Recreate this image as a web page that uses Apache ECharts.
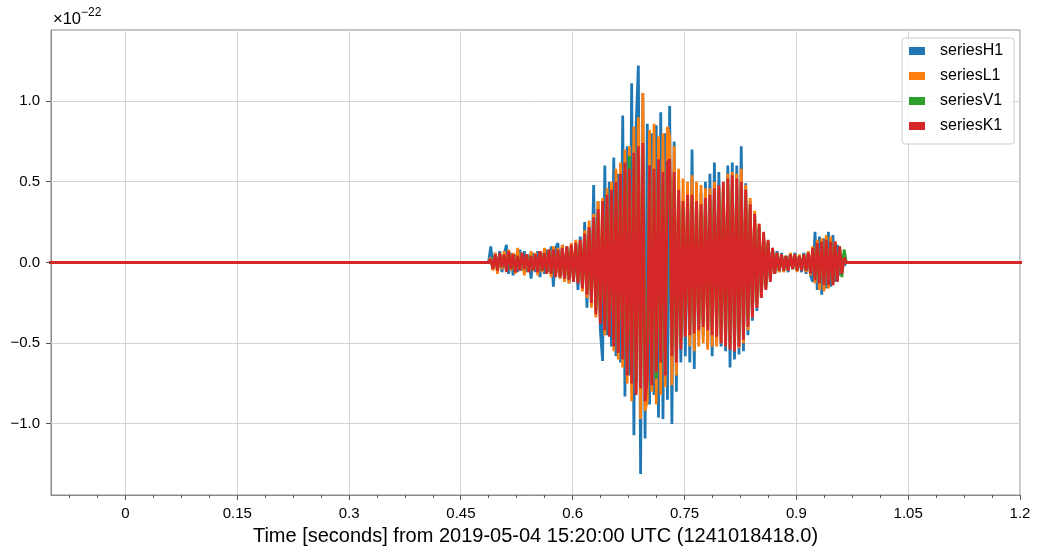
<!DOCTYPE html>
<html><head><meta charset="utf-8">
<script src="https://cdn.jsdelivr.net/npm/echarts@6/dist/echarts.min.js"></script>
<style>html,body{margin:0;padding:0;background:#fff}#c{width:1040px;height:557px}</style>
</head><body><div id="c"></div>
<script>
// sampling grid of the burst (seconds)
const timeStart = 0.49;
const timeStep = 0.003;

// strain values in units of 1e-22, one per time sample
const seriesH1 = [
 0.10,-0.04,0.06,-0.05,0.07,-0.06,0.05,0.11,-0.07,0.06,
 -0.08,0.05,-0.06,0.08,-0.05,0.07,-0.06,0.05,-0.10,0.06,
 -0.06,0.07,-0.09,0.06,-0.07,0.08,-0.06,0.10,-0.15,0.09,
 0.12,-0.10,0.11,-0.12,0.10,-0.13,0.09,-0.12,0.13,-0.17,
 0.16,-0.17,0.25,-0.28,0.22,-0.24,0.48,-0.30,0.38,-0.42,
 -0.61,0.60,-0.45,0.50,-0.52,0.65,-0.58,0.55,-0.62,0.91,
 -0.83,0.72,-0.70,1.11,-1.07,0.85,1.22,-1.31,1.05,-1.09,
 0.86,-0.88,0.80,-0.82,0.85,-0.96,0.93,-0.97,0.80,-0.85,
 0.97,-1.00,0.75,-0.80,0.53,-0.62,0.38,-0.58,0.45,-0.62,
 0.70,-0.66,0.42,-0.48,0.43,-0.46,0.50,-0.52,0.55,-0.58,
 0.62,-0.50,0.56,-0.52,0.46,-0.55,0.60,-0.65,0.62,-0.60,
 0.60,-0.57,0.72,-0.55,0.49,-0.45,0.38,-0.36,0.30,-0.30,
 0.22,-0.22,0.17,-0.16,0.12,-0.10,0.09,-0.07,0.07,-0.06,
 0.06,-0.05,0.04,-0.06,0.05,-0.04,0.06,-0.05,0.04,-0.06,
 0.06,-0.07,0.07,-0.08,-0.12,0.19,-0.17,0.16,-0.20,0.15,
 -0.16,0.19,-0.15,0.17,-0.12,0.11,-0.08,0.05,-0.02
];
const seriesL1 = [
 0.03,-0.05,0.06,-0.07,0.05,-0.04,0.07,-0.03,0.08,-0.05,
 0.06,-0.07,0.09,-0.05,0.06,-0.08,0.05,-0.06,0.07,-0.05,
 0.06,-0.08,0.07,-0.06,0.09,-0.07,0.08,-0.09,0.10,-0.08,
 0.09,-0.10,0.11,-0.12,0.10,-0.13,0.12,-0.11,0.14,-0.12,
 0.14,-0.18,0.20,-0.22,0.26,-0.28,0.30,-0.34,0.38,-0.36,
 0.40,-0.45,0.46,-0.43,0.50,-0.55,0.58,-0.60,0.62,-0.65,
 0.70,-0.75,0.72,-0.86,0.84,-0.80,0.90,-0.97,1.05,-0.92,
 -0.85,0.82,-0.80,0.86,-0.88,0.78,-0.82,0.80,-0.77,0.84,
 0.78,-0.76,0.72,-0.70,0.58,-0.50,0.52,-0.46,0.50,-0.52,
 0.54,-0.55,0.50,-0.52,0.48,-0.50,0.46,-0.54,0.46,-0.52,
 0.50,-0.52,0.46,-0.50,0.48,-0.52,0.55,-0.53,0.56,-0.55,
 0.55,-0.53,0.58,-0.50,0.48,-0.42,0.40,-0.34,0.32,-0.28,
 0.24,-0.22,0.18,-0.16,0.13,-0.10,0.08,-0.07,0.06,-0.06,
 0.05,-0.06,0.04,-0.05,0.06,-0.04,0.05,-0.06,0.05,-0.04,
 0.05,-0.06,0.07,-0.08,0.10,-0.13,0.14,-0.17,0.15,-0.18,
 0.17,-0.16,0.16,-0.14,0.13,-0.11,0.09,-0.06,0.03
];
const seriesV1 = [
 0.02,-0.03,0.04,-0.04,0.05,-0.03,0.04,-0.05,0.06,-0.04,
 0.04,-0.05,0.04,-0.04,0.05,-0.04,0.04,-0.05,0.04,-0.04,
 0.04,-0.05,0.06,-0.05,0.05,-0.06,0.07,-0.06,0.07,-0.08,
 0.07,-0.08,0.08,-0.09,0.09,-0.10,0.10,-0.11,0.11,-0.12,
 0.12,-0.14,0.16,-0.18,0.20,-0.22,0.25,-0.29,0.30,-0.34,
 0.34,-0.38,0.38,-0.42,0.40,-0.47,0.45,-0.50,0.50,-0.54,
 0.56,-0.63,0.66,-0.68,0.61,-0.74,0.65,-0.70,0.67,-0.77,
 -0.65,0.54,-0.68,0.52,-0.72,0.58,-0.56,0.50,-0.63,0.56,
 0.58,-0.52,0.50,-0.56,0.40,-0.49,0.34,-0.41,0.38,-0.40,
 0.38,-0.40,0.34,-0.38,0.32,-0.36,0.36,-0.38,0.38,-0.40,
 0.41,-0.41,0.43,-0.45,0.45,-0.47,0.47,-0.49,0.49,-0.50,
 0.47,-0.47,0.45,-0.43,0.40,-0.36,0.32,-0.31,0.27,-0.25,
 0.22,-0.20,0.17,-0.15,0.13,-0.11,0.08,-0.06,0.05,-0.05,
 0.04,-0.05,0.04,-0.04,0.05,-0.04,0.04,-0.05,0.04,-0.04,
 0.05,-0.05,0.05,-0.06,0.08,-0.10,0.11,-0.12,0.12,-0.13,
 0.13,-0.13,0.12,-0.13,0.12,-0.11,0.10,-0.09,0.08
];
const seriesK1 = [
 0.02,-0.04,0.05,-0.05,0.06,-0.03,0.05,-0.06,0.07,-0.04,
 0.05,-0.06,0.04,-0.05,0.06,-0.04,0.05,-0.06,0.04,-0.05,
 0.05,-0.06,0.07,-0.05,0.06,-0.07,0.08,-0.07,0.08,-0.09,
 0.08,-0.09,0.09,-0.10,0.10,-0.11,0.11,-0.12,0.12,-0.13,
 0.14,-0.16,0.18,-0.20,0.22,-0.25,0.28,-0.32,0.33,-0.38,
 0.38,-0.42,0.42,-0.46,0.45,-0.52,0.50,-0.56,0.55,-0.60,
 0.62,-0.70,0.58,-0.75,0.68,-0.82,0.72,-0.78,0.74,-0.86,
 -0.72,0.60,-0.76,0.58,-0.68,0.64,-0.62,0.56,-0.70,0.62,
 0.64,-0.58,0.56,-0.62,0.45,-0.54,0.38,-0.46,0.42,-0.45,
 0.42,-0.44,0.38,-0.42,0.36,-0.40,0.40,-0.42,0.42,-0.45,
 0.46,-0.46,0.48,-0.50,0.50,-0.52,0.52,-0.54,0.54,-0.55,
 0.52,-0.52,0.50,-0.48,0.45,-0.40,0.36,-0.34,0.30,-0.28,
 0.24,-0.22,0.19,-0.17,0.14,-0.12,0.09,-0.07,0.06,-0.05,
 0.05,-0.05,0.04,-0.05,0.05,-0.04,0.05,-0.05,0.04,-0.05,
 0.05,-0.05,0.06,-0.07,0.09,-0.11,0.12,-0.13,0.13,-0.14,
 0.14,-0.14,0.13,-0.14,0.13,-0.12,0.10,-0.07,0.03
];

const seriesNames = ['seriesH1', 'seriesL1', 'seriesV1', 'seriesK1'];
const seriesColors = ['#1f77b4', '#ff7f0e', '#2ca02c', '#d62728'];

const xTickValues = [0, 0.15, 0.3, 0.45, 0.6, 0.75, 0.9, 1.05, 1.2];
const xTickLabels = ['0', '0.15', '0.3', '0.45', '0.6', '0.75', '0.9', '1.05', '1.2'];
const xMinorTicks = [-0.075, -0.0375, 0.0375, 0.075, 0.1125, 0.1875, 0.225, 0.2625, 0.3375, 0.375, 0.4125,
  0.4875, 0.525, 0.5625, 0.6375, 0.675, 0.7125, 0.7875, 0.825, 0.8625, 0.9375, 0.975, 1.0125, 1.0875, 1.125, 1.1625];
const yTickValues = [-1, -0.5, 0, 0.5, 1];
const yTickLabels = ['\u22121.0', '\u22120.5', '0.0', '0.5', '1.0'];

const xMin = -0.1, xMax = 1.2, yMin = -1.44, yMax = 1.44;
const FONT = '"Liberation Sans", Arial, Helvetica, sans-serif';
const gridColor = '#d2d2d2';
const spineColor = '#8a8a8a';
const tickColor = '#555';

function toPairs(vals) {
  const pts = [[-0.2, 0], [timeStart - timeStep, 0]];
  vals.forEach((v, i) => pts.push([+(timeStart + i * timeStep).toFixed(4), v]));
  pts.push([+(timeStart + vals.length * timeStep).toFixed(4), 0]);
  pts.push([1.3, 0]);
  return pts;
}
function labelFor(values, labels, v) {
  const k = values.findIndex(t => Math.abs(t - v) < 1e-6);
  return k >= 0 ? labels[k] : '';
}
function crisp(v) { return Math.round(v - 0.5) + 0.5; }

function tickSeries(vals, isX, len) {
  return {
    type: 'custom', silent: true, z: 6, clip: false,
    data: vals.map(v => isX ? [v, yMin] : [xMin, v]),
    encode: { x: 0, y: 1 },
    renderItem: (params, api) => {
      const p = api.coord([api.value(0), api.value(1)]);
      const shape = isX
        ? { x1: crisp(p[0]), y1: p[1], x2: crisp(p[0]), y2: p[1] + len }
        : { x1: p[0] - len, y1: crisp(p[1]), x2: p[0], y2: crisp(p[1]) };
      return { type: 'line', shape, style: { stroke: tickColor, lineWidth: 1 } };
    }
  };
}
function gridSeries(vals, isX) {
  return {
    type: 'custom', silent: true, z: 1, clip: false,
    data: vals.map(v => isX ? [v, yMin] : [xMin, v]),
    encode: { x: 0, y: 1 },
    renderItem: (params, api) => {
      const v = api.value(isX ? 0 : 1);
      const a = api.coord(isX ? [v, yMin] : [xMin, v]);
      const b = api.coord(isX ? [v, yMax] : [xMax, v]);
      const shape = isX
        ? { x1: crisp(a[0]), y1: a[1], x2: crisp(a[0]), y2: b[1] }
        : { x1: a[0], y1: crisp(a[1]), x2: b[0], y2: crisp(a[1]) };
      return { type: 'line', shape, style: { stroke: gridColor, lineWidth: 1 } };
    }
  };
}

const dataSeries = [seriesH1, seriesL1, seriesV1, seriesK1].map((vals, k) => ({
  name: seriesNames[k], type: 'line', data: toPairs(vals),
  showSymbol: false, symbol: 'none', z: 2 + k * 0.01,
  lineStyle: { color: seriesColors[k], width: 2.8, join: 'miter', miterLimit: 2 },
  itemStyle: { color: seriesColors[k] },
  animation: false, clip: true
}));

const chart = echarts.init(document.getElementById('c'));
chart.setOption({
  animation: false,
  backgroundColor: '#fff',
  color: seriesColors,
  grid: { left: 51, right: 20, top: 30, bottom: 62, show: true, borderColor: spineColor, borderWidth: 1, backgroundColor: 'transparent' },
  xAxis: {
    type: 'value', min: xMin, max: xMax, interval: 0.05,
    axisLine: { show: true, onZero: false, lineStyle: { color: spineColor } },
    axisTick: { show: false }, splitLine: { show: false },
    axisLabel: { color: '#000', fontFamily: FONT, fontSize: 15, margin: 11, showMinLabel: true, showMaxLabel: true,
      formatter: v => labelFor(xTickValues, xTickLabels, v) },
    name: 'Time [seconds] from 2019-05-04 15:20:00 UTC (1241018418.0)',
    nameLocation: 'middle', nameGap: 31,
    nameTextStyle: { color: '#000', fontFamily: FONT, fontSize: 20 }
  },
  yAxis: {
    type: 'value', min: yMin, max: yMax, interval: 0.02,
    axisLine: { show: true, onZero: false, lineStyle: { color: spineColor } },
    axisTick: { show: false }, splitLine: { show: false },
    axisLabel: { color: '#000', fontFamily: FONT, fontSize: 15, margin: 11,
      formatter: v => labelFor(yTickValues, yTickLabels, v) }
  },
  legend: {
    data: seriesNames, orient: 'vertical', left: 902, top: 38,
    icon: 'rect', itemWidth: 16, itemHeight: 8, itemGap: 9,
    padding: [5, 11, 10, 7],
    backgroundColor: 'rgba(255,255,255,0.85)', borderColor: '#cccccc', borderWidth: 1, borderRadius: 3,
    textStyle: { color: '#000', fontFamily: FONT, fontSize: 16, padding: [0, 0, 0, 10] }
  },
  graphic: [
    { type: 'text', left: 53, top: 11, style: { text: '\u00d710', font: '16.5px ' + FONT, fill: '#000' } },
    { type: 'text', left: 81, top: 7, style: { text: '\u221222', font: '12px ' + FONT, fill: '#000' } }
  ],
  series: [
    gridSeries(xTickValues, true),
    gridSeries(yTickValues, false),
    ...dataSeries,
    tickSeries(xTickValues, true, 5),
    tickSeries(xMinorTicks, true, 3),
    tickSeries(yTickValues, false, 5)
  ]
});
</script>
</body></html>
